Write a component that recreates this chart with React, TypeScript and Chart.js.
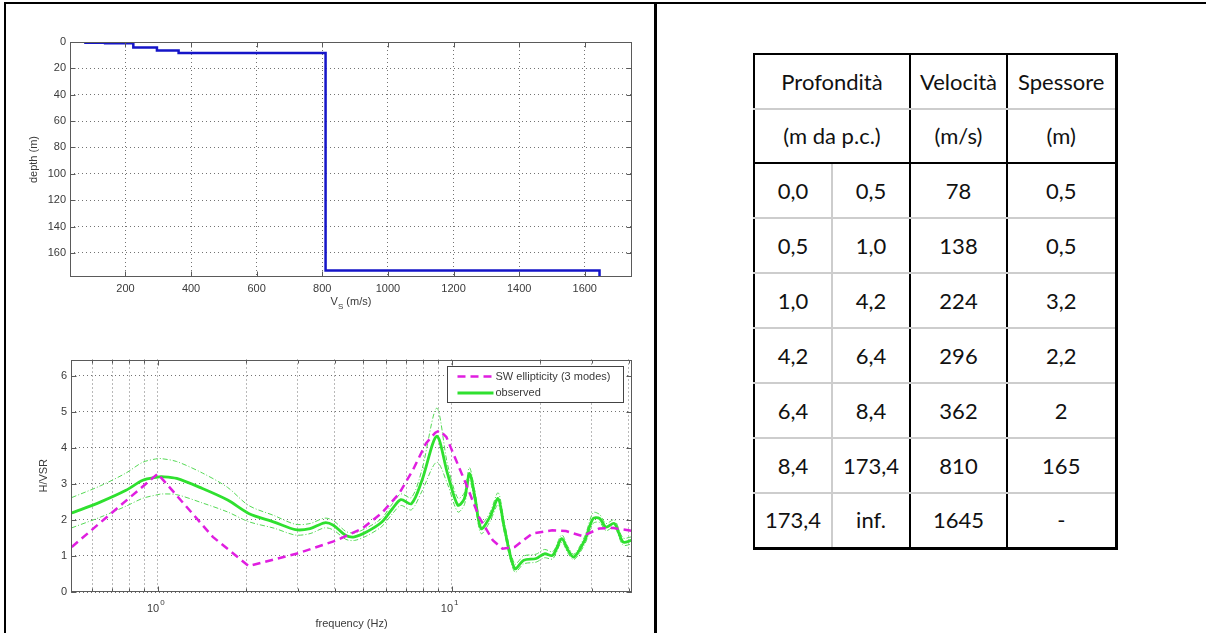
import React, { useEffect, useRef } from 'react';
import { Chart, registerables } from 'chart.js';

Chart.register(...registerables);

// ---------------- Data: velocity profile ----------------
const layerTop = [0, 0.5, 1.0, 4.2, 6.4, 8.4, 173.4];
const layerBottom: (number | null)[] = [0.5, 1.0, 4.2, 6.4, 8.4, 173.4, null];
const layerVs = [78, 138, 224, 296, 362, 810, 1645];
const layerThickness = ['0,5', '0,5', '3,2', '2,2', '2', '165', '-'];
const depthTicks = [0, 20, 40, 60, 80, 100, 120, 140, 160];
const vsTicks = [200, 400, 600, 800, 1000, 1200, 1400, 1600];
const vsMin = 31;
const vsMax = 1744;
const depthMax = 178.3;

// ---------------- Data: H/V curves ----------------
const freqObs = [0.51, 0.64, 0.78, 0.89, 1.0, 1.03, 1.16, 1.42, 1.73, 2.04, 2.49, 2.94, 3.3, 3.7, 3.96, 4.37, 4.67, 5.15, 5.79, 6.29, 6.72, 7.3, 7.93, 8.9, 9.68, 10.5, 11.05, 11.5, 12.0, 12.6, 13.5, 14.4, 15.1, 16.4, 17.6, 19.4, 20.7, 22.1, 23.7, 24.9, 26.1, 28.4, 30.3, 31.9, 33.5, 35.8, 38.3, 40.9];
const obsMean = [2.19, 2.5, 2.82, 3.1, 3.19, 3.2, 3.15, 2.87, 2.55, 2.18, 1.94, 1.73, 1.76, 1.92, 1.85, 1.57, 1.53, 1.67, 1.94, 2.31, 2.56, 2.45, 3.1, 4.32, 3.29, 2.41, 2.59, 3.29, 2.64, 1.76, 2.08, 2.59, 1.8, 0.65, 0.88, 0.93, 1.06, 1.02, 1.48, 1.16, 0.97, 1.44, 2.04, 2.04, 1.8, 1.9, 1.39, 1.43];
const obsUpper = [2.62, 2.95, 3.3, 3.6, 3.7, 3.7, 3.62, 3.3, 2.9, 2.4, 2.12, 1.88, 1.9, 2.05, 1.98, 1.68, 1.64, 1.78, 2.05, 2.45, 2.72, 2.62, 3.4, 5.1, 3.55, 2.6, 2.75, 3.45, 2.8, 1.9, 2.2, 2.75, 1.95, 0.78, 1.0, 1.05, 1.18, 1.12, 1.58, 1.25, 1.05, 1.55, 2.2, 2.15, 1.9, 2.0, 1.5, 1.53];
const obsLower = [1.78, 2.08, 2.38, 2.6, 2.7, 2.72, 2.7, 2.47, 2.22, 1.95, 1.77, 1.58, 1.62, 1.78, 1.72, 1.46, 1.43, 1.56, 1.82, 2.17, 2.4, 2.28, 2.8, 3.6, 3.0, 2.22, 2.42, 3.1, 2.48, 1.62, 1.95, 2.42, 1.66, 0.55, 0.78, 0.83, 0.95, 0.92, 1.38, 1.07, 0.9, 1.33, 1.9, 1.93, 1.7, 1.8, 1.3, 1.33];
const freqSW = [0.51, 1.0, 1.54, 2.04, 3.02, 4.02, 4.97, 5.8, 6.63, 7.4, 8.18, 8.8, 9.1, 9.6, 10.35, 11.3, 12.4, 13.8, 14.9, 16.4, 18.8, 22.0, 24.5, 27.9, 31.8, 35.0, 40.9];
const swEllipticity = [1.25, 3.28, 1.53, 0.72, 1.08, 1.42, 1.76, 2.2, 2.73, 3.4, 4.12, 4.42, 4.48, 4.3, 3.66, 2.92, 2.08, 1.44, 1.2, 1.25, 1.62, 1.71, 1.69, 1.55, 1.76, 1.78, 1.7];
const freqTicks = [0.6, 0.7, 0.8, 0.9, 1, 2, 3, 4, 5, 6, 7, 8, 9, 10, 20, 30, 40];
const hvTicks = [0, 1, 2, 3, 4, 5, 6];
const freqMin = 0.507;
const freqMax = 41.1;
const hvMax = 6.45;
const legendLabels = ['SW ellipticity (3 modes)', 'observed'];

// ---------------- Styles ----------------
const FONT = '"Liberation Sans", Arial, sans-serif';
const TICK_COLOR = '#3a3a3a';
const GRID_COLOR = 'rgba(0,0,0,0.55)';
const FRAME_COLOR = '#5a5a5a';
const BLUE = '#1515c8';
const MAGENTA = '#e01ee0';
const GREEN = '#2fe02f';
const GREEN_LIGHT = '#55d955';

const matlabFrame = {
  id: 'matlabFrame',
  afterDraw(chart: any, _args: any, opts: any) {
    const { ctx, chartArea: a, scales } = chart;
    const xs = scales.x;
    const ys = scales.y;
    ctx.save();
    ctx.strokeStyle = FRAME_COLOR;
    ctx.lineWidth = 1;
    const L = Math.round(a.left) + 0.5;
    const R = Math.round(a.right) - 0.5;
    const T = Math.round(a.top) + 0.5;
    const B = Math.round(a.bottom) - 0.5;
    ctx.strokeRect(L, T, R - L, B - T);
    ctx.beginPath();
    xs.ticks.forEach((t: any) => {
      const px = Math.round(xs.getPixelForValue(t.value)) + 0.5;
      const major = opts.logX ? Math.abs(Math.log10(t.value) - Math.round(Math.log10(t.value))) < 1e-6 : true;
      const len = major ? 5 : 3;
      ctx.moveTo(px, B); ctx.lineTo(px, B - len);
      ctx.moveTo(px, T); ctx.lineTo(px, T + len);
    });
    ys.ticks.forEach((t: any) => {
      const py = Math.round(ys.getPixelForValue(t.value)) + 0.5;
      ctx.moveTo(L, py); ctx.lineTo(L + 5, py);
      ctx.moveTo(R, py); ctx.lineTo(R - 5, py);
    });
    ctx.stroke();

    ctx.fillStyle = TICK_COLOR;
    if (opts.logX) {
      xs.ticks.forEach((t: any) => {
        const lg = Math.log10(t.value);
        if (Math.abs(lg - Math.round(lg)) < 1e-6) {
          const px = xs.getPixelForValue(t.value);
          ctx.font = `11px ${FONT}`;
          ctx.textAlign = 'right';
          ctx.textBaseline = 'alphabetic';
          ctx.fillText('10', px + 1.5, a.bottom + 20);
          ctx.font = `8px ${FONT}`;
          ctx.textAlign = 'left';
          ctx.fillText(String(Math.round(lg)), px + 2.5, a.bottom + 13);
        }
      });
    }
    const cx = (a.left + a.right) / 2;
    ctx.textBaseline = 'alphabetic';
    if (opts.xTitleSub) {
      const [main, sub, rest] = opts.xTitleSub;
      ctx.font = `11px ${FONT}`;
      const w1 = ctx.measureText(main).width;
      const w3 = ctx.measureText(rest).width;
      ctx.font = `8px ${FONT}`;
      const w2 = ctx.measureText(sub).width;
      const x0 = cx - (w1 + w2 + w3) / 2;
      ctx.textAlign = 'left';
      ctx.font = `11px ${FONT}`;
      ctx.fillText(main, x0, a.bottom + opts.xTitleY);
      ctx.font = `8px ${FONT}`;
      ctx.fillText(sub, x0 + w1, a.bottom + opts.xTitleY + 4);
      ctx.font = `11px ${FONT}`;
      ctx.fillText(rest, x0 + w1 + w2, a.bottom + opts.xTitleY);
    } else if (opts.xTitle) {
      ctx.font = `11px ${FONT}`;
      ctx.textAlign = 'center';
      ctx.fillText(opts.xTitle, cx, a.bottom + opts.xTitleY);
    }
    if (opts.yTitle) {
      ctx.save();
      ctx.translate(opts.yTitleX, (a.top + a.bottom) / 2);
      ctx.rotate(-Math.PI / 2);
      ctx.font = `11px ${FONT}`;
      ctx.textAlign = 'center';
      ctx.textBaseline = 'middle';
      ctx.fillText(opts.yTitle, 0, 0);
      ctx.restore();
    }
    if (opts.legend) {
      const bw = 176, bh = 36;
      const bx = Math.round(a.right - 9 - bw) + 0.5;
      const by = Math.round(a.top + 6) + 0.5;
      ctx.fillStyle = '#ffffff';
      ctx.fillRect(bx, by, bw, bh);
      ctx.strokeStyle = '#444';
      ctx.lineWidth = 1;
      ctx.strokeRect(bx, by, bw, bh);
      chart.data.datasets.slice(0, 2).forEach((ds: any, i: number) => {
        const yy = by + 10 + i * 16.5;
        ctx.save();
        ctx.strokeStyle = ds.borderColor;
        ctx.lineWidth = ds.borderWidth;
        ctx.setLineDash(ds.borderDash || []);
        ctx.beginPath();
        ctx.moveTo(bx + 10, yy);
        ctx.lineTo(bx + 46, yy);
        ctx.stroke();
        ctx.restore();
        ctx.fillStyle = TICK_COLOR;
        ctx.font = `11px ${FONT}`;
        ctx.textAlign = 'left';
        ctx.textBaseline = 'middle';
        ctx.fillText(ds.label, bx + 48, yy);
      });
    }
    ctx.restore();
  },
};

const tickFont = { family: FONT, size: 11 };

function ProfileChart() {
  const ref = useRef<HTMLCanvasElement>(null);
  useEffect(() => {
    const pts: { x: number; y: number }[] = [];
    for (let i = 0; i < layerVs.length; i++) {
      const b = layerBottom[i] === null ? depthMax : (layerBottom[i] as number);
      pts.push({ x: layerVs[i], y: layerTop[i] }, { x: layerVs[i], y: b });
    }
    const chart = new Chart(ref.current as HTMLCanvasElement, {
      type: 'scatter',
      data: {
        datasets: [{
          label: 'Vs', data: pts, showLine: true, borderColor: BLUE, backgroundColor: BLUE,
          borderWidth: 2.5, pointRadius: 0, tension: 0, fill: false,
        }],
      },
      options: {
        animation: false, responsive: false, maintainAspectRatio: false,
        layout: { padding: { left: 0, top: 42, right: 18, bottom: 0 } },
        plugins: {
          legend: { display: false }, tooltip: { enabled: false },
          matlabFrame: { xTitleSub: ['V', 'S', ' (m/s)'], xTitleY: 28, yTitle: 'depth (m)', yTitleX: 34 },
        } as any,
        scales: {
          x: {
            type: 'linear', min: vsMin, max: vsMax,
            afterBuildTicks: (s: any) => { s.ticks = vsTicks.map((v) => ({ value: v })); },
            afterFit: (s: any) => { s.height = 53; },
            grid: { color: GRID_COLOR, lineWidth: 1, drawTicks: false },
            border: { display: false, dash: [1, 3] },
            ticks: { padding: 5, color: TICK_COLOR, font: tickFont, autoSkip: false, maxRotation: 0, callback: (v: any) => String(v) },
          },
          y: {
            type: 'linear', reverse: true, min: 0, max: depthMax,
            afterBuildTicks: (s: any) => { s.ticks = depthTicks.map((v) => ({ value: v })); },
            afterFit: (s: any) => { s.width = 70; },
            grid: { color: GRID_COLOR, lineWidth: 1, drawTicks: false },
            border: { display: false, dash: [1, 3] },
            ticks: { padding: 4, color: TICK_COLOR, font: tickFont, autoSkip: false, callback: (v: any) => String(v) },
          },
        },
      } as any,
      plugins: [matlabFrame],
    });
    return () => chart.destroy();
  }, []);
  return <canvas ref={ref} width={650} height={330} style={{ position: 'absolute', left: 0, top: 0, width: 650, height: 330 }} />;
}

function HVChart() {
  const ref = useRef<HTMLCanvasElement>(null);
  useEffect(() => {
    const toPts = (xs: number[], ys: number[]) => xs.map((x, i) => ({ x, y: ys[i] }));
    const chart = new Chart(ref.current as HTMLCanvasElement, {
      type: 'scatter',
      data: {
        datasets: [
          { label: legendLabels[0], data: toPts(freqSW, swEllipticity), showLine: true, borderColor: MAGENTA, borderWidth: 2.5, borderDash: [8, 5], pointRadius: 0, tension: 0, order: 0 },
          { label: legendLabels[1], data: toPts(freqObs, obsMean), showLine: true, borderColor: GREEN, borderWidth: 2.8, pointRadius: 0, tension: 0.3, order: 1 },
          { label: 'upper', data: toPts(freqObs, obsUpper), showLine: true, borderColor: GREEN_LIGHT, borderWidth: 1, borderDash: [5, 2, 1, 2], pointRadius: 0, tension: 0.3, order: 2 },
          { label: 'lower', data: toPts(freqObs, obsLower), showLine: true, borderColor: GREEN_LIGHT, borderWidth: 1, borderDash: [5, 2, 1, 2], pointRadius: 0, tension: 0.3, order: 3 },
        ],
      },
      options: {
        animation: false, responsive: false, maintainAspectRatio: false,
        layout: { padding: { left: 0, top: 29.5, right: 18, bottom: 0 } },
        plugins: {
          legend: { display: false }, tooltip: { enabled: false },
          matlabFrame: { logX: true, xTitle: 'frequency (Hz)', xTitleY: 35, yTitle: 'H/VSR', yTitleX: 44, legend: true },
        } as any,
        scales: {
          x: {
            type: 'logarithmic', min: freqMin, max: freqMax,
            afterBuildTicks: (s: any) => { s.ticks = freqTicks.map((v) => ({ value: v })); },
            afterFit: (s: any) => { s.height = 41; },
            grid: { color: GRID_COLOR, lineWidth: 1, drawTicks: false },
            border: { display: false, dash: [1, 3] },
            ticks: { display: false, autoSkip: false },
          },
          y: {
            type: 'linear', min: 0, max: hvMax,
            afterBuildTicks: (s: any) => { s.ticks = hvTicks.map((v) => ({ value: v })); },
            afterFit: (s: any) => { s.width = 71; },
            grid: { color: GRID_COLOR, lineWidth: 1, drawTicks: false },
            border: { display: false, dash: [1, 3] },
            ticks: { padding: 4, color: TICK_COLOR, font: tickFont, autoSkip: false, callback: (v: any) => String(v) },
          },
        },
      } as any,
      plugins: [matlabFrame],
    });
    return () => chart.destroy();
  }, []);
  return <canvas ref={ref} width={650} height={303} style={{ position: 'absolute', left: 0, top: 330, width: 650, height: 303 }} />;
}

const fmt = (v: number) => v.toFixed(1).replace('.', ',');
const GRAY_LINE = '2px solid #cdcdcd';
const BLACK_LINE = '2px solid #000';

function LayerTable() {
  const cell: React.CSSProperties = {
    textAlign: 'center', verticalAlign: 'middle', padding: 0,
    fontFamily: 'Lato, "Open Sans", sans-serif', fontSize: 22, color: '#111', lineHeight: '24px',
  };
  return (
    <table style={{ position: 'absolute', left: 753, top: 53, width: 362, borderCollapse: 'collapse', tableLayout: 'fixed', border: BLACK_LINE, borderRight: '3px solid #000', borderBottom: '3px solid #000' }}>
      <colgroup>
        <col style={{ width: 78 }} />
        <col style={{ width: 78 }} />
        <col style={{ width: 97 }} />
        <col style={{ width: 109 }} />
      </colgroup>
      <tbody>
        <tr style={{ height: 55 }}>
          <td colSpan={2} style={{ ...cell, borderRight: BLACK_LINE, borderBottom: GRAY_LINE }}>Profondità</td>
          <td style={{ ...cell, borderRight: BLACK_LINE, borderBottom: GRAY_LINE }}>Velocità</td>
          <td style={{ ...cell, borderBottom: GRAY_LINE }}>Spessore</td>
        </tr>
        <tr style={{ height: 54 }}>
          <td colSpan={2} style={{ ...cell, borderRight: BLACK_LINE, borderBottom: BLACK_LINE }}>(m da p.c.)</td>
          <td style={{ ...cell, borderRight: BLACK_LINE, borderBottom: BLACK_LINE }}>(m/s)</td>
          <td style={{ ...cell, borderBottom: BLACK_LINE }}>(m)</td>
        </tr>
        {layerVs.map((v, i) => {
          const last = i === layerVs.length - 1;
          const bb = last ? undefined : GRAY_LINE;
          const b = layerBottom[i];
          return (
            <tr key={i} style={{ height: 55 }}>
              <td style={{ ...cell, borderRight: GRAY_LINE, borderBottom: bb }}>{fmt(layerTop[i])}</td>
              <td style={{ ...cell, borderRight: BLACK_LINE, borderBottom: bb }}>{b === null ? 'inf.' : fmt(b)}</td>
              <td style={{ ...cell, borderRight: BLACK_LINE, borderBottom: bb }}>{v}</td>
              <td style={{ ...cell, borderBottom: bb }}>{layerThickness[i]}</td>
            </tr>
          );
        })}
      </tbody>
    </table>
  );
}

export default function App() {
  return (
    <div style={{ position: 'absolute', left: 0, top: 0, width: 1206, height: 633, background: '#fff', overflow: 'hidden' }}>
      <div style={{ position: 'absolute', left: 4, top: 2, right: 0, height: 2, background: '#000' }} />
      <div style={{ position: 'absolute', left: 4, top: 2, bottom: 0, width: 2, background: '#000' }} />
      <div style={{ position: 'absolute', left: 654, top: 2, bottom: 0, width: 3, background: '#000' }} />
      <div style={{ position: 'absolute', left: 0, top: 0, width: 650, height: 633 }}>
        <ProfileChart />
        <HVChart />
      </div>
      <LayerTable />
    </div>
  );
}
